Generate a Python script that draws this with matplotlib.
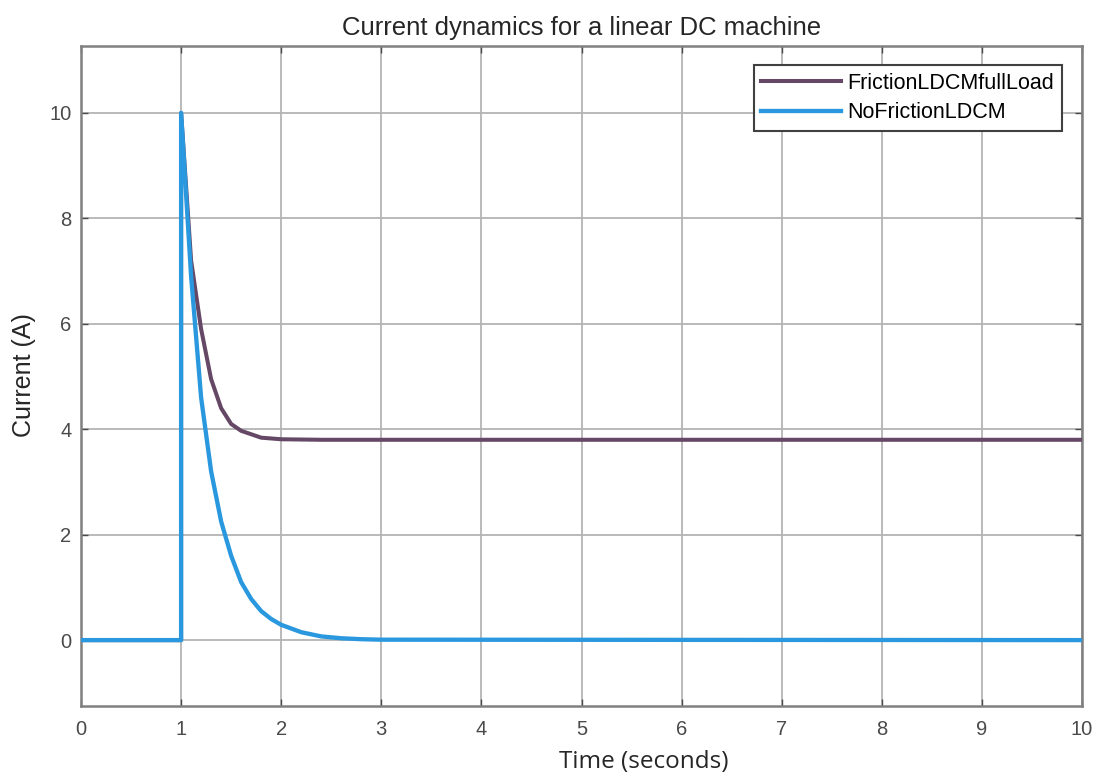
import numpy as np
import matplotlib
matplotlib.use('Agg')
import matplotlib.pyplot as plt

# valores
t_fric = [0, 1.0, 1.0, 1.1, 1.2, 1.3, 1.4, 1.5, 1.6, 1.8, 2.0, 2.4, 3.0, 10.0]
i_fric = [0, 0, 10.0, 7.2, 5.9, 4.95, 4.4, 4.1, 3.97, 3.84, 3.81, 3.80, 3.80, 3.80]

t_nofric = [0, 1.0, 1.0, 1.1, 1.2, 1.3, 1.4, 1.5, 1.6, 1.7, 1.8, 1.9, 2.0,
            2.2, 2.4, 2.6, 2.8, 3.0, 10.0]
i_nofric = [0, 0, 10.0, 6.9, 4.6, 3.2, 2.25, 1.6, 1.1, 0.78, 0.55, 0.4, 0.29,
            0.15, 0.07, 0.035, 0.017, 0.008, 0.0]

nomes = ['FrictionLDCMfullLoad', 'NoFrictionLDCM']
xticks = list(range(0, 11))
yticks = [0, 2, 4, 6, 8, 10]

plt.rcParams['font.family'] = ['Liberation Sans', 'DejaVu Sans']

fig = plt.figure(figsize=(11.03, 7.78), dpi=100)
ax = fig.add_axes([81 / 1103, 72 / 778, 1001 / 1103, 660 / 778])

ax.plot(t_fric, i_fric, color='#654766', lw=2.9, label=nomes[0], zorder=3)
ax.plot(t_nofric, i_nofric, color='#2a98de', lw=3.1, label=nomes[1], zorder=4)

ax.set_xlim(0, 10)
ax.set_ylim(-1.25, 11.27)
ax.set_xticks(xticks)
ax.set_yticks(yticks)
ax.grid(True, color='#b4b4b4', lw=1.3)
ax.set_axisbelow(True)

for s in ax.spines.values():
    s.set_color('#808080')
    s.set_linewidth(1.8)

ax.tick_params(direction='in', length=5, width=1, colors='#4a4a4a',
               top=True, right=True, labelsize=14.5, pad=10)
ax.tick_params(axis='y', pad=7)

ax.set_title('Current dynamics for a linear DC machine', fontsize=18.5,
             color='#262626', pad=8)
fig.text(644 / 1103, 1 - 762 / 778, 'Time (seconds)', fontsize=17.5,
         family=['Open Sans', 'DejaVu Sans'], color='#262626',
         ha='center', va='center')
fig.text(24 / 1103, 1 - 375 / 778, 'Current (A)', fontsize=18,
         color='#262626', rotation=90, ha='center', va='center')

leg = ax.legend(loc='upper right', fontsize=15.5, handlelength=3.7,
                handletextpad=0.3, labelspacing=0.4, borderpad=0.35,
                fancybox=False, framealpha=1, bbox_to_anchor=(0.9905, 0.987))
leg.get_frame().set_edgecolor('#404040')
leg.get_frame().set_linewidth(1.5)

plt.savefig('out.png', dpi=100)
